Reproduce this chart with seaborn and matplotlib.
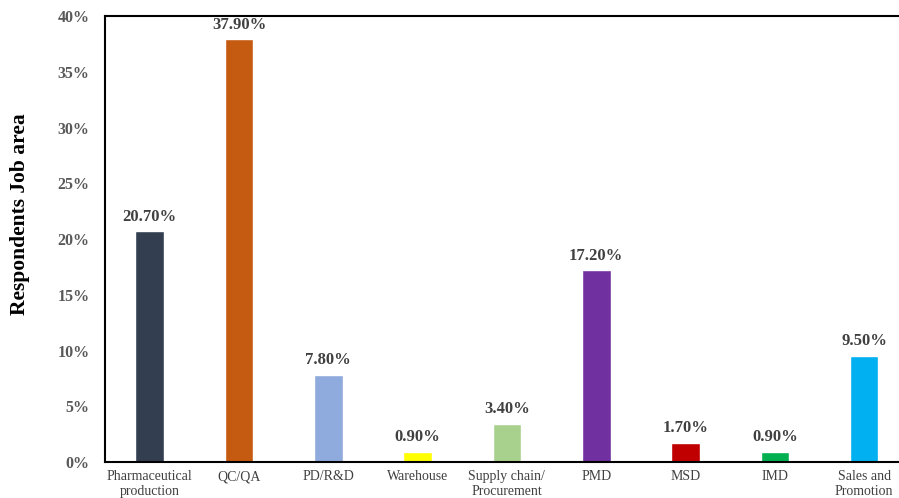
import matplotlib
matplotlib.use("Agg")
import matplotlib.pyplot as plt
import pandas as pd
import seaborn as sns
from matplotlib.ticker import PercentFormatter

categories = ["Pharmaceutical\nproduction", "QC/QA", "PD/R&D", "Warehouse",
              "Supply chain/\nProcurement", "PMD", "MSD", "IMD", "Sales and\nPromotion"]
shares = [20.7, 37.9, 7.8, 0.9, 3.4, 17.2, 1.7, 0.9, 9.5]
colors = ["#333F50", "#C55A11", "#8FAADC", "#FFFF00", "#A9D18E",
          "#7030A0", "#C00000", "#00B050", "#00B0F0"]

sns.set_theme(style="white")
plt.rcParams["font.family"] = ["Liberation Serif", "DejaVu Serif"]

df = pd.DataFrame({"area": categories, "share": shares})

fig = plt.figure(figsize=(8.99, 4.98), dpi=100)
ax = fig.add_axes([0.1168, 0.0723, 0.8832, 0.8955])
sns.barplot(data=df, x="area", y="share", hue="area", palette=colors,
            width=0.32, legend=False, ax=ax, saturation=1)

for i, v in enumerate(shares):
    ax.text(i, v + 0.6, f"{v:.2f}%", ha="center", va="bottom",
            fontsize=12, fontweight="bold", color="#404040")

ax.set_ylim(0, 40)
ax.set_xlim(-0.5, 8.39)
ax.set_yticks(range(0, 41, 5))
ax.yaxis.set_major_formatter(PercentFormatter(decimals=0))
ax.tick_params(axis="y", length=0, pad=11, labelsize=11.5, labelcolor="#595959")
ax.tick_params(axis="x", length=0, pad=6, labelsize=10, labelcolor="#404040")
for lbl in ax.get_yticklabels():
    lbl.set_fontweight("bold")
ax.set_xlabel("")
ax.set_ylabel("Respondents Job area", fontsize=15.5, fontweight="bold",
              color="black")
ax.yaxis.set_label_coords(-0.094, 0.556)

for side in ["left", "top", "bottom"]:
    ax.spines[side].set_visible(True)
    ax.spines[side].set_color("black")
    ax.spines[side].set_linewidth(1.5)
ax.spines["right"].set_visible(False)

fig.savefig("out.png", dpi=100)
